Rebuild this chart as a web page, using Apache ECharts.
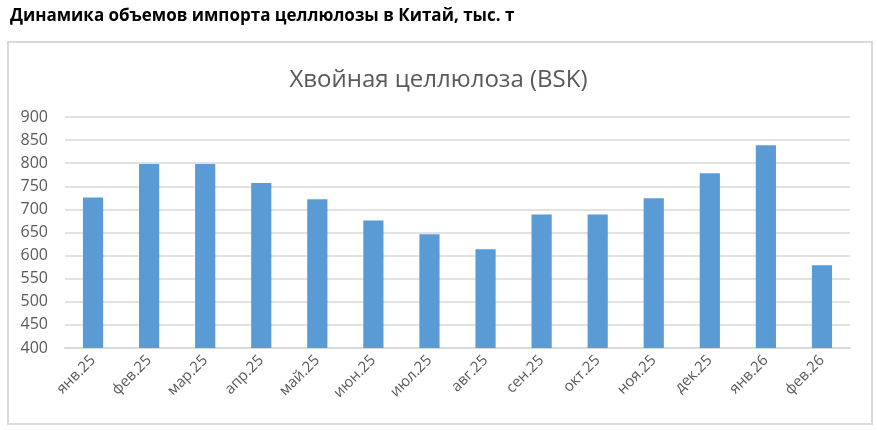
<!DOCTYPE html>
<html>
<head>
<meta charset="utf-8">
<script src="https://cdn.jsdelivr.net/npm/echarts@6/dist/echarts.min.js"></script>
<style>
  html, body { margin: 0; padding: 0; background: #fff; }
  #chart { width: 877px; height: 430px; }
</style>
</head>
<body>
<div id="chart"></div>
<script>
// data, тыс. т
const months = ['янв.25', 'фев.25', 'мар.25', 'апр.25', 'май.25', 'июн.25', 'июл.25',
  'авг.25', 'сен.25', 'окт.25', 'ноя.25', 'дек.25', 'янв.26', 'фев.26']
const bskImport = [726, 798, 798, 757, 722, 676, 646, 614, 689, 689, 724, 778, 839, 579]
const yMin = 400
const yMax = 900
const yStep = 50

const font = '"Open Sans", sans-serif'

const chart = echarts.init(document.getElementById('chart'))
chart.setOption({
  animation: false,
  title: [
    {
      text: 'Динамика объемов импорта целлюлозы в Китай, тыс. т',
      left: 5,
      top: 3,
      textStyle: { fontFamily: font, fontSize: 17, fontWeight: 'bold', color: '#000' }
    },
    {
      text: 'Хвойная целлюлоза (BSK)',
      left: 'center',
      top: 63,
      textStyle: { fontFamily: font, fontSize: 24, fontWeight: 'normal', color: '#595959' }
    }
  ],
  graphic: [
    {
      type: 'rect',
      shape: { x: 8, y: 42, width: 864, height: 382 },
      style: { fill: 'none', stroke: '#d9d9d9', lineWidth: 2 },
      silent: true
    }
  ],
  grid: { left: 65, right: 27, top: 117, bottom: 82 },
  xAxis: {
    type: 'category',
    data: months,
    axisLine: { lineStyle: { color: '#d9d9d9', width: 2 } },
    axisTick: { show: false },
    axisLabel: {
      rotate: 45,
      interval: 0,
      margin: 10,
      fontFamily: font,
      fontSize: 15,
      color: '#595959'
    }
  },
  yAxis: {
    type: 'value',
    min: yMin,
    max: yMax,
    interval: yStep,
    axisLine: { show: false },
    axisTick: { show: false },
    splitLine: { lineStyle: { color: '#d9d9d9', width: 1.5 } },
    axisLabel: { fontFamily: font, fontSize: 16, color: '#595959', margin: 17 }
  },
  series: [
    {
      name: 'BSK',
      type: 'bar',
      data: bskImport,
      barWidth: '36%',
      itemStyle: { color: '#5b9bd5' }
    }
  ]
})
</script>
</body>
</html>
